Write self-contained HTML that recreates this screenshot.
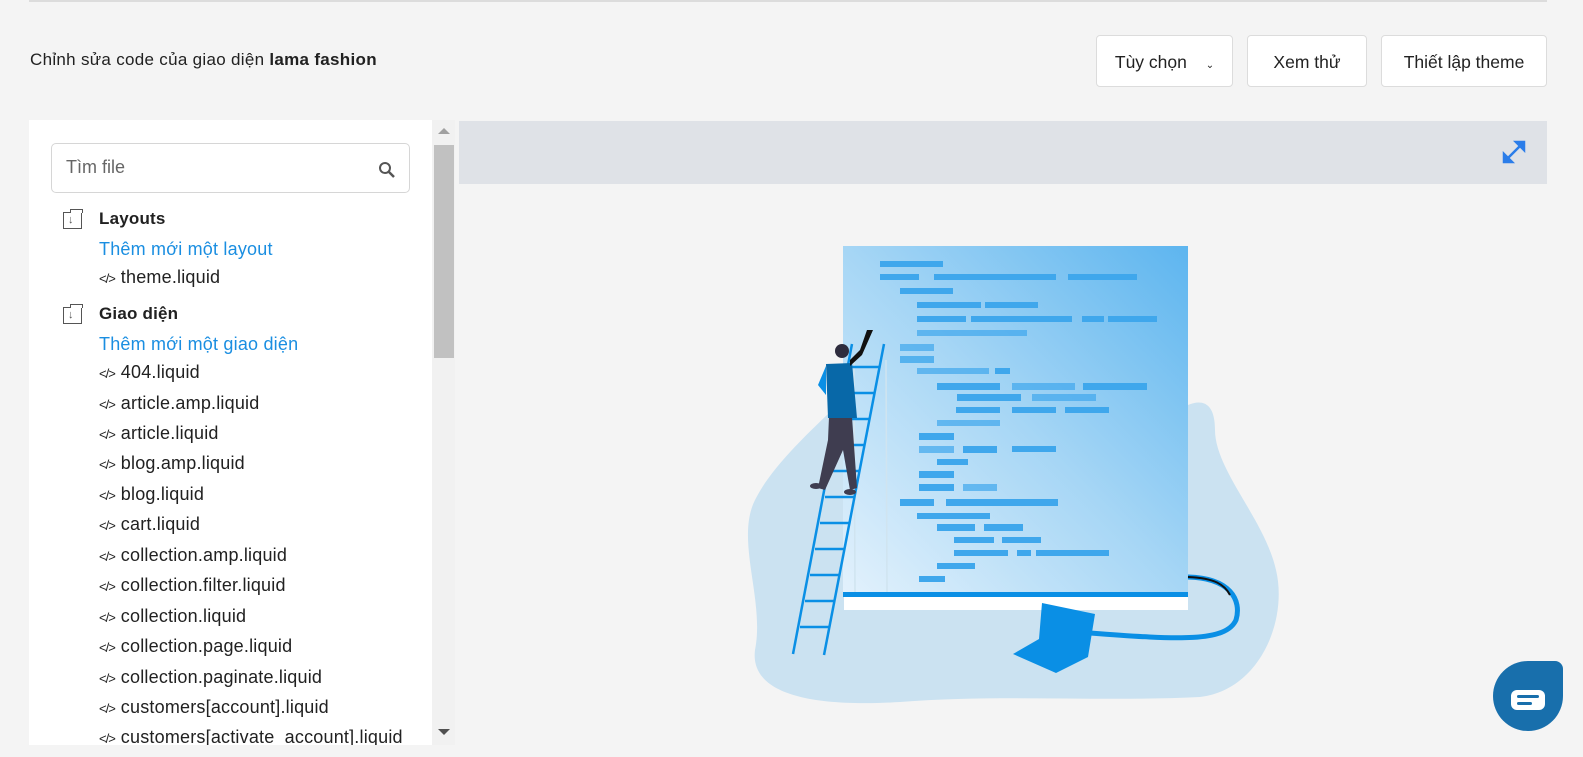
<!DOCTYPE html>
<html><head><meta charset="utf-8"><style>
body{margin:0;width:1583px;height:757px;background:#f4f4f4;font-family:"Liberation Sans",sans-serif;color:#212121;position:relative;overflow:hidden}
.a{position:absolute;white-space:nowrap}
.btn{position:absolute;top:35px;height:52px;background:#fff;border:1px solid #dcdcdc;border-radius:4px;font-size:17.5px;line-height:52px;text-align:center;box-sizing:border-box;color:#222}
.f{position:absolute;left:99px;font-size:18px;letter-spacing:0.2px;white-space:nowrap}
.f i{font-style:normal;font-size:13px;margin-right:6px;letter-spacing:-1px}
.lnk{color:#1a8ee1}
.h{font-weight:bold;font-size:17px}
.fold{position:absolute;left:63px;width:19px;height:17px;border:1px solid #555;box-sizing:border-box}
.fold:before{content:"";position:absolute;left:6px;top:-4px;width:11px;height:3px;border:1px solid #555;border-bottom:0;background:#fff}
.fold:after{content:"↓";position:absolute;left:4px;top:0;font-size:11px;color:#555;line-height:14px}
</style></head><body>
<div class="a" style="left:29px;top:0;width:1518px;height:2px;background:#dcdcdc"></div>
<div class="a" style="left:30px;top:50px;font-size:17px;letter-spacing:0.3px">Chỉnh sửa code của giao diện <b>lama fashion</b></div>
<div class="btn" style="left:1096px;width:137px">Tùy chọn <span style="font-size:10px;margin-left:14px">&#x2304;</span></div>
<div class="btn" style="left:1247px;width:120px">Xem thử</div>
<div class="btn" style="left:1381px;width:166px">Thiết lập theme</div>

<div class="a" style="left:29px;top:120px;width:403px;height:625px;background:#fff"></div>
<div class="a" style="left:432px;top:120px;width:23px;height:625px;background:#f1f1f1"></div>
<div class="a" style="left:434px;top:145px;width:20px;height:213px;background:#c1c1c1"></div>
<div class="a" style="left:438px;top:128px;border:6px solid transparent;border-bottom:6px solid #a0a0a0;border-top:0"></div>
<div class="a" style="left:438px;top:729px;border:6px solid transparent;border-top:6px solid #505050;border-bottom:0"></div>
<div class="a" style="left:51px;top:143px;width:359px;height:50px;border:1px solid #d6d6d6;border-radius:5px;box-sizing:border-box"></div>
<div class="a" style="left:66px;top:157px;font-size:18px;color:#666">Tìm file</div>
<svg class="a" style="left:377px;top:160px" width="20" height="20"><circle cx="8" cy="8" r="5" stroke="#555" stroke-width="2" fill="none"/><line x1="12" y1="12" x2="17" y2="17" stroke="#555" stroke-width="2.5"/></svg>

<div class="fold" style="top:212px"></div>
<div class="f h" style="top:209px">Layouts</div>
<div class="f lnk" style="top:239px">Thêm mới một layout</div>
<div class="f" style="top:267px"><i>&lt;/&gt;</i>theme.liquid</div>
<div class="fold" style="top:307px"></div>
<div class="f h" style="top:304px">Giao diện</div>
<div class="f lnk" style="top:334px">Thêm mới một giao diện</div>
<div class="f" style="top:362px"><i>&lt;/&gt;</i>404.liquid</div>
<div class="f" style="top:393px"><i>&lt;/&gt;</i>article.amp.liquid</div>
<div class="f" style="top:423px"><i>&lt;/&gt;</i>article.liquid</div>
<div class="f" style="top:453px"><i>&lt;/&gt;</i>blog.amp.liquid</div>
<div class="f" style="top:484px"><i>&lt;/&gt;</i>blog.liquid</div>
<div class="f" style="top:514px"><i>&lt;/&gt;</i>cart.liquid</div>
<div class="f" style="top:545px"><i>&lt;/&gt;</i>collection.amp.liquid</div>
<div class="f" style="top:575px"><i>&lt;/&gt;</i>collection.filter.liquid</div>
<div class="f" style="top:606px"><i>&lt;/&gt;</i>collection.liquid</div>
<div class="f" style="top:636px"><i>&lt;/&gt;</i>collection.page.liquid</div>
<div class="f" style="top:667px"><i>&lt;/&gt;</i>collection.paginate.liquid</div>
<div class="f" style="top:697px"><i>&lt;/&gt;</i>customers[account].liquid</div>
<div class="f" style="top:727px;height:18px;overflow:hidden"><i>&lt;/&gt;</i>customers[activate_account].liquid</div>

<div class="a" style="left:459px;top:121px;width:1088px;height:63px;background:#dfe2e7"></div>
<svg class="a" style="left:1502px;top:140px" width="24" height="24"><g stroke="#2b7de9" stroke-width="2.5" fill="#2b7de9"><line x1="5" y1="19" x2="19" y2="5"/><polygon points="22,2 22,10 14,2"/><polygon points="2,22 2,14 10,22"/></g></svg>

<svg class="a" style="left:0;top:0" width="1583" height="757">
<defs><linearGradient id="g" x1="0" y1="1" x2="1" y2="0"><stop offset="0" stop-color="#e2f1fc"/><stop offset="0.5" stop-color="#a6d6f5"/><stop offset="1" stop-color="#5db5ef"/></linearGradient></defs>
<path d="M843 400 C800 440 770 470 755 500 C735 540 765 600 755 650 C750 690 800 708 900 702 C1000 694 1100 702 1200 697 C1260 690 1288 620 1276 570 C1265 520 1215 470 1215 430 C1215 400 1200 400 1188 405 Z" fill="#cbe2f1"/>
<rect x="843" y="246" width="345" height="346" fill="url(#g)"/>
<rect x="843" y="592" width="345" height="5" fill="#0a8fe5"/>
<rect x="844" y="597" width="344" height="13" fill="#fff"/>
<g stroke="#d0e4f0" stroke-width="1.5"><line x1="854" y1="360" x2="855" y2="592"/><line x1="886" y1="360" x2="887" y2="592"/></g>
<g fill="#3fa7ec">
<rect x="880" y="261" width="63" height="6"/>
<rect x="880" y="274" width="39" height="6"/><rect x="934" y="274" width="122" height="6"/><rect x="1068" y="274" width="69" height="6"/>
<rect x="900" y="288" width="53" height="6"/>
<rect x="917" y="302" width="64" height="6"/><rect x="985" y="302" width="53" height="6"/>
<rect x="917" y="316" width="49" height="6"/><rect x="971" y="316" width="101" height="6"/><rect x="1082" y="316" width="22" height="6"/><rect x="1108" y="316" width="49" height="6"/>
<rect x="917" y="330" width="110" height="6" opacity=".7"/>
<rect x="900" y="344" width="34" height="7" opacity=".7"/><rect x="900" y="356" width="34" height="7" opacity=".8"/>
<rect x="917" y="368" width="72" height="6" opacity=".7"/><rect x="995" y="368" width="15" height="6"/>
<rect x="937" y="383" width="63" height="7"/><rect x="1012" y="383" width="63" height="7" opacity=".7"/><rect x="1083" y="383" width="64" height="7"/>
<rect x="957" y="394" width="64" height="7"/><rect x="1032" y="394" width="64" height="7" opacity=".7"/>
<rect x="956" y="407" width="44" height="6"/><rect x="1012" y="407" width="44" height="6"/><rect x="1065" y="407" width="44" height="6"/>
<rect x="937" y="420" width="63" height="6" opacity=".7"/>
<rect x="919" y="433" width="35" height="7"/>
<rect x="919" y="446" width="35" height="7" opacity=".7"/><rect x="963" y="446" width="34" height="7"/><rect x="1012" y="446" width="44" height="6"/>
<rect x="937" y="459" width="31" height="6"/>
<rect x="919" y="471" width="35" height="7"/>
<rect x="919" y="484" width="35" height="7"/><rect x="963" y="484" width="34" height="7" opacity=".7"/>
<rect x="900" y="499" width="34" height="7"/><rect x="946" y="499" width="112" height="7"/>
<rect x="917" y="513" width="73" height="6"/>
<rect x="937" y="524" width="38" height="7"/><rect x="984" y="524" width="39" height="7"/>
<rect x="954" y="537" width="40" height="6"/><rect x="1002" y="537" width="39" height="6"/>
<rect x="954" y="550" width="54" height="6"/><rect x="1017" y="550" width="14" height="6"/><rect x="1036" y="550" width="73" height="6"/>
<rect x="937" y="563" width="38" height="6"/>
<rect x="919" y="576" width="26" height="6"/>
</g>
<path d="M1188 577 C1230 578 1242 600 1236 620 C1226 642 1180 640 1090 633" stroke="#0a8fe5" stroke-width="5" fill="none"/>
<path d="M1188 577 C1215 578 1225 585 1230 595" stroke="#111" stroke-width="2" fill="none"/>
<polygon points="1042,603 1095,614 1088,657 1056,673 1013,654 1039,639" fill="#0a8fe5"/>
<g stroke="#0a8fe5" stroke-width="2.5"><line x1="793" y1="654" x2="852" y2="344"/><line x1="824" y1="655" x2="884" y2="344"/>
<line x1="800" y1="627" x2="829" y2="627"/><line x1="805" y1="601" x2="834" y2="601"/><line x1="810" y1="575" x2="839" y2="575"/><line x1="815" y1="549" x2="844" y2="549"/><line x1="820" y1="523" x2="849" y2="523"/><line x1="825" y1="497" x2="854" y2="497"/><line x1="830" y1="471" x2="859" y2="471"/><line x1="835" y1="445" x2="864" y2="445"/><line x1="840" y1="419" x2="869" y2="419"/><line x1="845" y1="393" x2="874" y2="393"/><line x1="850" y1="367" x2="879" y2="367"/></g>
<path d="M829 417 L852 417 L857 488 L850 490 L843 450 L825 490 L818 488 L828 440 Z" fill="#3f3d50"/>
<path d="M826 364 L852 363 L857 418 L828 418 Z" fill="#0868a8"/>
<path d="M826 366 L818 385 L826 395 Z" fill="#0a8fe5"/>
<path d="M850 366 L862 355 L873 330 L867 330 L860 350 L850 360 Z" fill="#111"/>
<circle cx="842" cy="351" r="7" fill="#2e2c3d"/>
<ellipse cx="816" cy="486" rx="6" ry="3" fill="#3f3d50"/><ellipse cx="850" cy="492" rx="6" ry="3" fill="#3f3d50"/>
</svg>

<div class="a" style="left:1493px;top:661px;width:70px;height:70px;background:#186fac;border-radius:50% 8px 50% 50%"></div>
<div class="a" style="left:1511px;top:690px;width:34px;height:20px;background:#fff;border-radius:6px"></div>
<div class="a" style="left:1517px;top:695px;width:22px;height:3px;background:#186fac;border-radius:2px"></div>
<div class="a" style="left:1517px;top:702px;width:15px;height:3px;background:#186fac;border-radius:2px"></div>
</body></html>
